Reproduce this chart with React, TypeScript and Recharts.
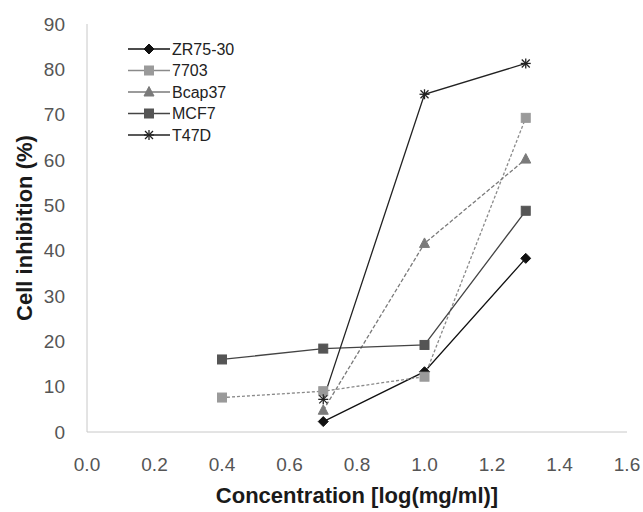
import React from 'react';
import { LineChart, Line, XAxis, YAxis, Label } from 'recharts';

const concentrations = [0.4, 0.7, 1.0, 1.3];
const zr7530 = [null, 2.3, 13.3, 38.3];
const s7703 = [7.6, 9.0, 12.2, 69.3];
const bcap37 = [null, 4.8, 41.6, 60.2];
const mcf7 = [16.0, 18.4, 19.2, 48.8];
const t47d = [null, 7.2, 74.5, 81.3];

const xTicks = [0, 0.2, 0.4, 0.6, 0.8, 1.0, 1.2, 1.4, 1.6];
const yTicks = [0, 10, 20, 30, 40, 50, 60, 70, 80, 90];

const data = concentrations.map((c, i) => ({
  x: c,
  zr: zr7530[i],
  s7703: s7703[i],
  bcap: bcap37[i],
  mcf: mcf7[i],
  t47d: t47d[i],
}));

type Shape = 'diamond' | 'square' | 'triangle' | 'star';

const FONT = 'Liberation Sans, Arial, sans-serif';

const drawMarker = (shape: Shape, cx: number, cy: number, color: string, key?: any) => {
  const s = 5;
  if (shape === 'diamond') {
    return <polygon key={key} points={`${cx},${cy - s} ${cx + s},${cy} ${cx},${cy + s} ${cx - s},${cy}`} fill={color} stroke={color} />;
  }
  if (shape === 'square') {
    return <rect key={key} x={cx - 4.5} y={cy - 4.5} width={9} height={9} fill={color} stroke={color} />;
  }
  if (shape === 'triangle') {
    return <polygon key={key} points={`${cx},${cy - 5.5} ${cx + 5},${cy + 4} ${cx - 5},${cy + 4}`} fill={color} stroke={color} />;
  }
  return (
    <g key={key} stroke={color} strokeWidth={1.3}>
      <line x1={cx - 5} y1={cy} x2={cx + 5} y2={cy} />
      <line x1={cx} y1={cy - 5} x2={cx} y2={cy + 5} />
      <line x1={cx - 4} y1={cy - 4} x2={cx + 4} y2={cy + 4} />
      <line x1={cx - 4} y1={cy + 4} x2={cx + 4} y2={cy - 4} />
    </g>
  );
};

const series = [
  { key: 'zr', name: 'ZR75-30', color: '#111111', marker: '#111111', shape: 'diamond' as Shape, dash: undefined },
  { key: 's7703', name: '7703', color: '#8a8a8a', marker: '#9a9a9a', shape: 'square' as Shape, dash: '3 2' },
  { key: 'bcap', name: 'Bcap37', color: '#7a7a7a', marker: '#7a7a7a', shape: 'triangle' as Shape, dash: '4 2' },
  { key: 'mcf', name: 'MCF7', color: '#444444', marker: '#555555', shape: 'square' as Shape, dash: undefined },
  { key: 't47d', name: 'T47D', color: '#222222', marker: '#222222', shape: 'star' as Shape, dash: undefined },
];

const LegendBox = () => (
  <svg width={140} height={115} style={{ position: 'absolute', left: 128, top: 38 }}>
    {series.map((s, i) => {
      const y = 11 + i * 21.5;
      return (
        <g key={s.key}>
          <line x1={0} y1={y} x2={42} y2={y} stroke={s.color} strokeWidth={1.3} />
          {drawMarker(s.shape, 21, y, s.marker)}
          <text x={44} y={y + 5.5} fontSize={16} fontFamily={FONT} fill="#222">
            {s.name}
          </text>
        </g>
      );
    })}
  </svg>
);

export default function App() {
  return (
    <div style={{ position: 'absolute', left: 0, top: 0, width: 643, height: 512, background: '#fff' }}>
      <LineChart width={643} height={512} data={data} margin={{ top: 24, right: 16, bottom: 0, left: 0 }}>
        <XAxis
          dataKey="x"
          type="number"
          domain={[0, 1.6]}
          ticks={xTicks}
          tickFormatter={(v: number) => v.toFixed(1)}
          height={80}
          stroke="#c8c8c8"
          tickLine={false}
          tickMargin={20}
          tick={{ fill: '#555', fontSize: 19, fontFamily: FONT }}
        >
          <Label
            value="Concentration [log(mg/ml)]"
            position="insideBottom"
            offset={9}
            style={{ fill: '#1a1a1a', fontSize: 22, fontWeight: 'bold', fontFamily: FONT }}
          />
        </XAxis>
        <YAxis
          type="number"
          domain={[0, 90]}
          ticks={yTicks}
          width={87}
          stroke="#c8c8c8"
          tickLine={false}
          tickMargin={16}
          tick={{ fill: '#555', fontSize: 19, fontFamily: FONT }}
        >
          <Label
            value="Cell inhibition (%)"
            angle={-90}
            position="insideLeft"
            offset={24}
            style={{ textAnchor: 'middle', fill: '#1a1a1a', fontSize: 22, fontWeight: 'bold', fontFamily: FONT }}
          />
        </YAxis>
        {series.map((s) => (
          <Line
            key={s.key}
            dataKey={s.key}
            name={s.name}
            stroke={s.color}
            strokeWidth={1.3}
            strokeDasharray={s.dash}
            connectNulls
            isAnimationActive={false}
            dot={(p: any) => (p.cx == null || p.cy == null || p.value == null ? <g key={p.index} /> : drawMarker(s.shape, p.cx, p.cy, s.marker, p.index))}
            activeDot={false}
          />
        ))}
      </LineChart>
      <LegendBox />
    </div>
  );
}
